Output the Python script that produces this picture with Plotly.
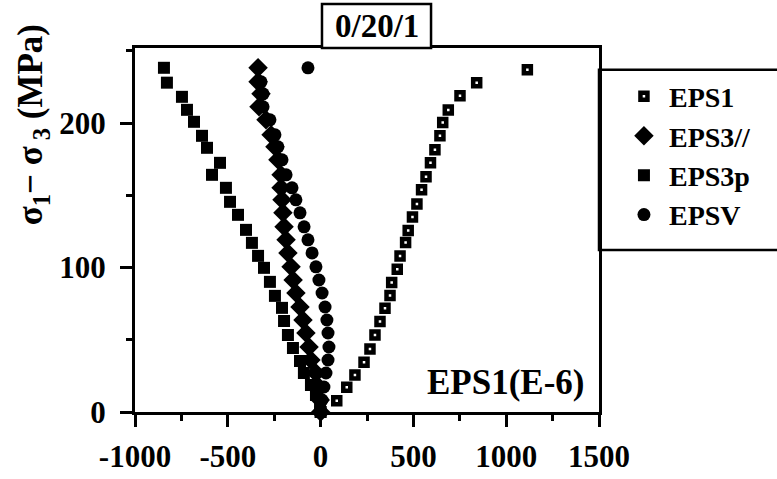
import plotly.graph_objects as go

# Axial strain EPS1 (micro-strain) against deviatoric stress (MPa)
eps1_stress = [0, 7.8, 17.1, 25.6, 34.4, 43.6, 53.3, 62.6, 71.8, 80.6, 89.6, 98.9, 108, 117.3,
               125.6, 135, 144, 153.8, 162.8, 172.5, 181.5, 191.2, 200.4, 209, 219, 228, 237]
eps1_strain = [0, 87, 141, 185, 234, 266, 293, 320, 347, 374, 383, 413, 428, 458,
               472, 495, 519, 544, 568, 592, 616, 643, 658, 688, 751, 841, 1114]

# Lateral strain parallel to the layering, and volumetric strain
eps3par_stress = [0, 8.3, 17.3, 27.0, 36.0, 45.0, 54.7, 63.7, 72.7, 82.4, 91.4, 100.5, 110.1, 119.2,
                  128.2, 137.9, 146.9, 155.2, 164.2, 174.6, 183.6, 191.9, 202.3, 211.3, 220.3, 228.6, 238.3]
eps3par_strain = [0, -2, -9, -25, -52, -62, -79, -95, -111, -133, -148, -159, -176, -186,
                  -197, -203, -208, -213, -213, -230, -246, -267, -294, -332, -321, -337, -337]
epsv_strain = [0, 8, 18, 29, 40, 45, 40, 34, 24, 8, -9, -25, -46, -68,
               -89, -111, -133, -154, -186, -208, -230, -246, -273, -310, -310, -321, -68]

# Lateral strain perpendicular to the layering
eps3p_stress = [0, 4.8, 11.8, 18.7, 27.0, 35.3, 44.3, 53.3, 63.0, 72.1, 80.4, 90.1, 99.8, 108.1,
                117.1, 126.1, 136.5, 145.5, 155.2, 164.2, 172.5, 182.9, 191.2, 200.9, 209.2, 218.2, 228.0, 238.3]
eps3p_strain = [0, -3, -25, -52, -90, -111, -149, -176, -197, -208, -246, -273, -305, -337,
                -370, -402, -445, -488, -510, -585, -542, -612, -639, -682, -720, -747, -828, -844]

x_ticks = [-1000, -500, 0, 500, 1000, 1500]
x_ticktext = ["-1000", "-500", "0", "500", "1000", "1500"]
y_ticks = [0, 100, 200]

SERIF = "Liberation Serif, Times New Roman, Times, serif"
BLACK = "black"

fig = go.Figure()
fig.add_trace(go.Scatter(
    x=eps1_strain, y=eps1_stress, mode="markers", name="EPS1", cliponaxis=False,
    marker=dict(symbol="square-open", size=7, color=BLACK, line=dict(width=4.5, color=BLACK))))
fig.add_trace(go.Scatter(
    x=eps3par_strain, y=eps3par_stress, mode="markers", name="EPS3//", cliponaxis=False,
    marker=dict(symbol="diamond", size=15, color=BLACK)))
fig.add_trace(go.Scatter(
    x=eps3p_strain, y=eps3p_stress, mode="markers", name="EPS3p", cliponaxis=False,
    marker=dict(symbol="square", size=12, color=BLACK)))
fig.add_trace(go.Scatter(
    x=epsv_strain, y=eps3par_stress, mode="markers", name="EPSV", cliponaxis=False,
    marker=dict(symbol="circle", size=13, color=BLACK)))

axis_common = dict(
    showgrid=False, zeroline=False, showline=True, linecolor=BLACK, linewidth=3,
    mirror=True, ticks="outside", tickcolor=BLACK, tickwidth=2.5, ticklen=12,
    automargin=False,
    tickfont=dict(family=SERIF, size=31, color=BLACK, weight="bold"),
)

fig.update_xaxes(
    range=[-1000, 1500], tickvals=x_ticks, ticktext=x_ticktext,
    minor=dict(dtick=250, ticklen=6, tickwidth=2.5, tickcolor=BLACK, ticks="outside"),
    ticklabelstandoff=3, **axis_common)
fig.update_yaxes(
    range=[0, 252], tickvals=y_ticks,
    minor=dict(dtick=50, ticklen=6, tickwidth=2.5, tickcolor=BLACK, ticks="outside"),
    ticklabelstandoff=8, **axis_common)

fig.update_layout(
    width=777, height=479,
    margin=dict(l=135, r=178, t=48, b=67, autoexpand=False),
    paper_bgcolor="white", plot_bgcolor="white",
    showlegend=True,
    legend=dict(
        x=1.043, xanchor="left", y=0.935, yanchor="top",
        bgcolor="rgba(0,0,0,0)", borderwidth=0,
        font=dict(family=SERIF, size=28, color=BLACK, weight="bold"),
        itemwidth=40,
    ),
    shapes=[
        # legend frame attached to the right edge of the plot
        dict(type="rect", xref="paper", yref="paper", x0=1, x1=1.5, y0=0.445, y1=0.94,
             line=dict(color=BLACK, width=2.5), fillcolor="rgba(0,0,0,0)", layer="below"),
        # title box sitting on top of the frame
        dict(type="rect", xref="paper", yref="paper", x0=0.403, x1=0.638, y0=1, y1=1.121,
             line=dict(color=BLACK, width=2.5), fillcolor="white"),
    ],
    annotations=[
        dict(text="0/20/1", xref="paper", yref="paper", x=0.5205, y=1.06,
             xanchor="center", yanchor="middle", showarrow=False,
             font=dict(family=SERIF, size=33, color=BLACK, weight="bold")),
        dict(text="EPS1(E-6)", xref="paper", yref="paper", x=0.975, y=0.08,
             xanchor="right", yanchor="middle", showarrow=False,
             font=dict(family=SERIF, size=35, color=BLACK, weight="bold")),
        dict(text="σ<sub>1</sub>− σ<sub> 3</sub> (MPa)", xref="paper", yref="paper",
             x=-0.22, y=0.79, xanchor="center", yanchor="middle", textangle=-90,
             showarrow=False,
             font=dict(family=SERIF, size=35, color=BLACK, weight="bold")),
    ],
)

fig.write_html("out.html")
